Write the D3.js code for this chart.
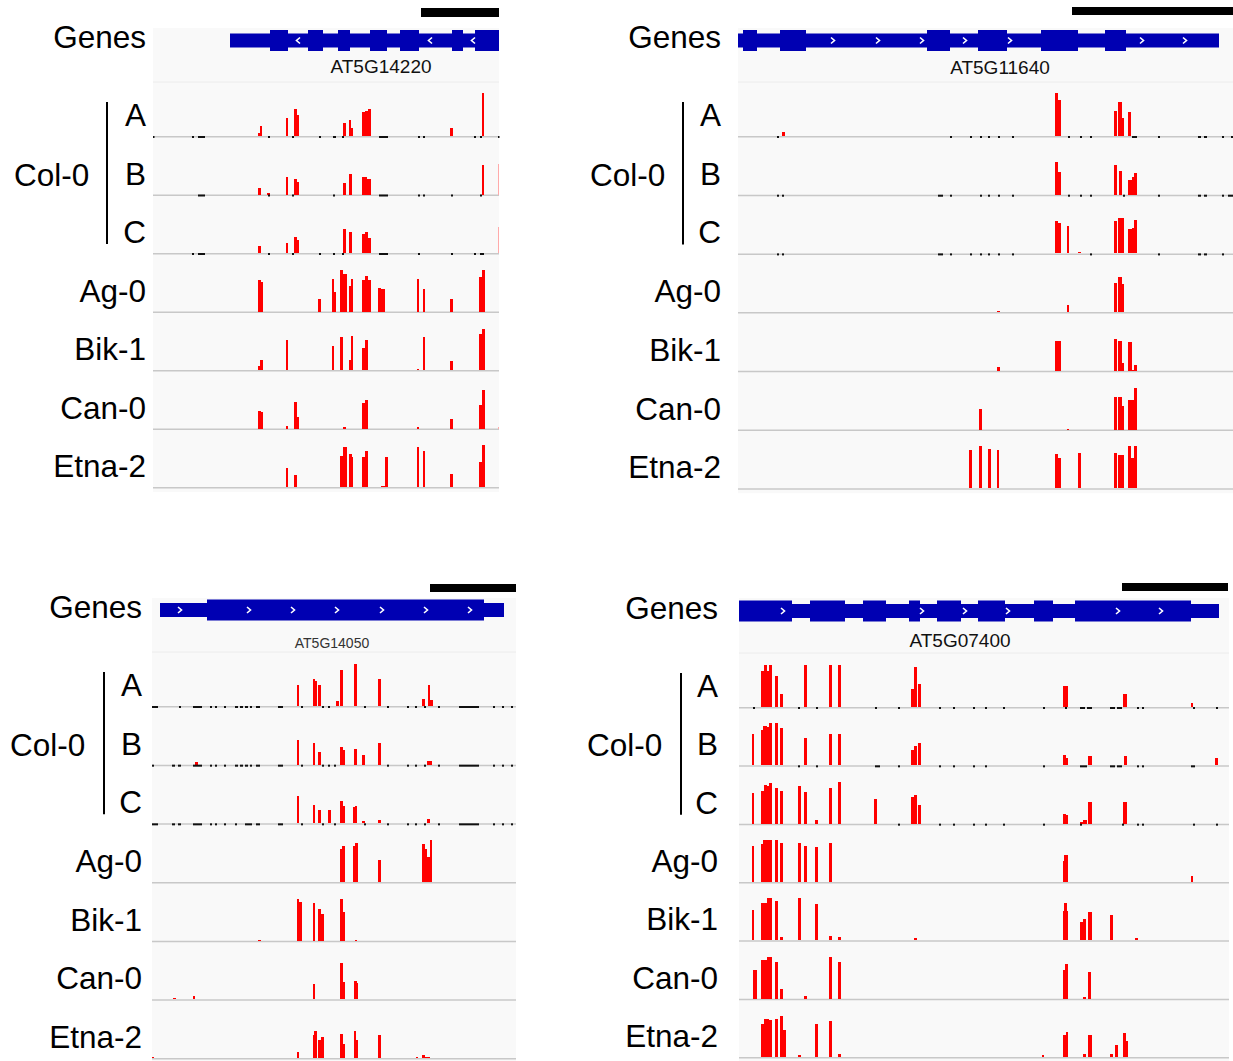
<!DOCTYPE html>
<html>
<head>
<meta charset="utf-8">
<script src="https://cdn.jsdelivr.net/npm/d3@7"></script>
<style>
  body { margin: 0; background: #fff; }
  text { font-family: "Liberation Sans", Arial, sans-serif; }
</style>
</head>
<body>
<script>
// tracks shown in every panel, top to bottom
const trackNames = ["A", "B", "C", "Ag-0", "Bik-1", "Can-0", "Etna-2"];
const geneIds = ["AT5G14220", "AT5G11640", "AT5G14050", "AT5G07400"];
// window length of each panel, in bins
const windowBins = [346, 495, 364, 490];

// gene models: [start, end] in bins
const geneSpans = [[77, 346], [0, 481], [8, 352], [0, 480]];
const exons1 = [[117, 135], [155, 170], [185, 197], [217, 234], [247, 266], [299, 310], [322, 346]];
const exons2 = [[5, 19], [42, 68], [189, 212], [240, 269], [303, 340], [367, 388]];
const exons3 = [[55, 332]];
const exons4 = [[0, 53], [71, 106], [124, 147], [170, 181], [198, 222], [239, 266], [295, 314], [336, 452]];
const chevrons1 = [145, 277, 320];
const chevrons2 = [95, 140, 184, 227, 272, 404, 447];
const chevrons3 = [28, 97, 141, 185, 230, 274, 318];
const chevrons4 = [44, 183, 226, 269, 379, 422];
const strands = ["-", "+", "+", "+"];
const geneLabelPos = [228, 262, 180, 221];
const scaleBars = [[268, 346], [334, 495], [278, 364], [383, 489]];

// coverage bars: [start bin, end bin, coverage]
const p1A = [[105,107,3],[107,109,10],[133,135,18],[141,144,27],[144,146,21],[190,193,13],[196,198,16],[198,200,8],[209,212,24],[212,215,25],[215,218,27],[297,300,8],[329,331,43]];
const p1B = [[105,108,7],[114,117,2],[133,135,18],[141,144,16],[144,146,13],[190,193,12],[196,199,21],[209,214,18],[214,218,16],[329,331,30],[345,346,31]];
const p1C = [[105,108,7],[133,135,10],[141,144,16],[144,146,13],[190,193,24],[196,199,21],[209,212,19],[212,215,21],[215,218,15],[345,346,26]];
const p1Ag = [[105,108,32],[108,110,30],[165,168,13],[179,181,33],[181,183,20],[187,190,42],[190,194,38],[196,198,26],[198,200,33],[209,212,32],[212,215,36],[215,218,32],[225,228,24],[228,232,23],[264,266,33],[270,272,23],[297,300,13],[326,329,35],[329,332,42]];
const p1Bik = [[105,107,4],[107,110,10],[133,135,30],[179,181,24],[187,190,33],[196,198,10],[198,200,34],[209,212,22],[212,215,30],[264,266,1],[270,272,33],[297,300,9],[326,329,36],[329,332,41]];
const p1Can = [[105,108,18],[108,110,17],[133,135,3],[141,144,27],[144,146,12],[190,193,2],[209,212,26],[212,215,29],[264,266,2],[297,300,10],[326,329,24],[329,332,39],[345,346,2]];
const p1Etna = [[133,135,19],[141,144,12],[187,190,31],[190,194,40],[196,199,33],[199,200,30],[209,212,30],[212,215,36],[228,232,1],[232,235,30],[264,266,40],[270,272,36],[297,300,13],[326,329,25],[329,332,42]];

const p2A = [[44,47,4],[317,320,43],[320,323,36],[376,379,25],[380,384,34],[384,386,18],[390,393,24]];
const p2B = [[317,320,33],[320,323,23],[376,379,30],[381,384,24],[390,394,15],[394,396,18],[396,399,22]];
const p2C = [[317,320,32],[320,323,30],[329,331,27],[340,343,1],[376,379,32],[380,386,35],[390,394,24],[394,396,25],[396,399,33]];
const p2Ag = [[259,262,1],[329,331,7],[376,379,29],[380,384,35],[384,386,28]];
const p2Bik = [[259,262,4],[317,323,30],[376,379,32],[380,384,30],[384,386,8],[390,394,29],[394,396,1],[396,399,6]];
const p2Can = [[241,244,21],[329,331,1],[376,379,33],[380,384,33],[384,386,24],[390,396,30],[396,399,42]];
const p2Etna = [[231,234,38],[241,244,42],[250,253,39],[259,261,38],[317,320,34],[320,323,30],[340,343,35],[376,379,35],[380,386,33],[390,393,42],[393,396,30],[396,399,42]];

const p3A = [[145,147,21],[161,163,27],[163,165,25],[166,169,21],[184,187,5],[188,191,36],[202,205,42],[226,229,27],[270,273,7],[276,278,21],[278,281,6]];
const p3B = [[43,46,3],[145,147,25],[161,163,22],[166,169,13],[188,191,18],[191,193,15],[202,205,16],[210,213,10],[226,229,22],[275,280,4]];
const p3C = [[145,147,27],[161,163,18],[166,169,13],[176,179,13],[188,191,22],[191,193,17],[201,203,16],[203,205,17],[210,213,2],[226,229,3],[275,278,4]];
const p3Ag = [[188,190,33],[190,193,36],[201,203,36],[203,206,39],[226,229,22],[270,273,38],[273,275,33],[275,278,25],[278,280,42]];
const p3Bik = [[106,109,1],[145,147,42],[147,150,39],[161,163,38],[166,169,32],[169,172,27],[188,191,42],[191,193,29],[203,205,1]];
const p3Can = [[21,24,1],[41,43,3],[161,163,15],[188,191,36],[191,193,17],[202,205,18],[205,206,16]];
const p3Etna = [[0,2,1],[145,147,6],[161,162,23],[162,165,27],[166,169,18],[169,172,21],[188,191,24],[191,193,14],[202,204,27],[204,206,18],[226,229,23],[264,266,1],[270,273,3],[273,278,1]];

const p4A = [[22,25,36],[25,28,42],[28,30,36],[30,33,42],[36,39,31],[41,44,13],[65,68,42],[90,93,42],[99,102,42],[172,175,18],[175,178,40],[179,182,23],[324,329,21],[384,388,13],[452,454,4]];
const p4B = [[13,15,31],[22,24,35],[24,28,39],[28,30,38],[30,33,42],[36,39,42],[41,44,37],[65,68,27],[90,93,31],[99,102,31],[172,175,15],[175,178,19],[179,182,22],[324,327,10],[327,329,7],[349,353,9],[385,388,9],[476,479,7]];
const p4C = [[13,15,31],[22,25,33],[25,28,39],[28,30,38],[30,33,41],[36,39,36],[41,44,33],[59,62,38],[65,68,32],[76,79,4],[90,93,36],[99,102,42],[135,138,25],[172,175,27],[175,178,29],[179,182,19],[324,327,10],[327,329,9],[341,344,2],[344,348,4],[349,353,22],[384,388,22]];
const p4Ag = [[13,15,36],[22,24,38],[24,33,42],[36,39,42],[41,44,39],[59,62,39],[65,68,36],[76,79,35],[90,93,39],[324,325,21],[325,329,27],[452,454,6]];
const p4Bik = [[13,15,30],[22,28,37],[28,33,42],[36,39,39],[41,44,3],[59,62,42],[76,79,36],[90,93,4],[99,102,3],[175,178,2],[324,325,29],[325,328,37],[328,329,29],[341,344,18],[344,347,21],[349,353,28],[371,374,25],[396,399,2]];
const p4Can = [[14,18,29],[22,28,39],[28,33,42],[36,39,37],[41,44,10],[65,68,3],[90,93,42],[99,102,37],[324,326,29],[326,329,35],[344,347,2],[349,352,27]];
const p4Etna = [[22,25,33],[25,30,38],[30,33,37],[36,39,38],[41,44,41],[44,47,27],[59,62,2],[76,79,33],[90,93,36],[99,102,3],[303,305,2],[324,327,22],[327,329,25],[344,347,3],[349,353,22],[371,374,3],[376,379,12],[384,387,24],[387,389,16]];

// zero-coverage ticks under the Col-0 replicates: [start bin, end bin]
const p1GapA = [[0,1],[39,41],[45,52],[115,117],[139,141],[166,168],[180,183],[189,191],[226,235],[265,267],[270,272],[321,323],[327,329],[345,346]];
const p1GapB = [[45,52],[115,117],[139,141],[180,182],[226,235],[265,267],[270,272],[298,300],[327,329]];
const p1GapC = [[39,41],[45,52],[115,117],[139,141],[166,168],[180,182],[189,191],[226,235],[265,267],[298,300],[321,323],[327,331]];
const p2GapA = [[39,41],[212,214],[232,234],[242,244],[250,252],[260,262],[274,276],[330,332],[342,344],[352,354],[394,399],[420,422],[460,463],[466,469],[484,486],[493,495]];
const p2GapB = [[39,41],[44,46],[200,205],[212,214],[242,244],[250,252],[260,262],[274,276],[330,332],[342,344],[352,354],[385,387],[420,422],[460,463],[466,469],[484,486],[490,495]];
const p2GapC = [[39,41],[44,46],[200,205],[212,214],[232,234],[242,244],[250,252],[260,262],[274,276],[352,354],[420,422],[460,463],[466,469],[484,486]];
const p3GapA = [[0,6],[27,29],[41,50],[58,60],[63,65],[72,74],[83,86],[88,91],[93,96],[98,100],[104,108],[126,131],[149,151],[170,172],[176,178],[212,214],[235,237],[255,257],[263,265],[272,274],[286,288],[307,327],[341,343],[350,352],[359,361]];
const p3GapB = [[0,2],[20,23],[26,29],[41,50],[58,60],[63,65],[72,74],[83,86],[88,91],[93,96],[98,100],[104,108],[126,131],[149,151],[170,172],[176,178],[182,184],[235,237],[255,257],[263,265],[272,274],[286,288],[307,327],[341,343],[350,352],[359,361]];
const p3GapC = [[0,6],[20,23],[26,29],[41,50],[58,60],[63,65],[72,74],[83,85],[93,100],[104,108],[126,131],[149,151],[170,172],[182,184],[212,214],[235,237],[255,257],[263,265],[272,274],[286,288],[307,327],[341,343],[350,352],[359,361]];
const p4GapA = [[14,16],[59,61],[77,79],[136,138],[159,161],[200,202],[214,216],[234,236],[246,248],[264,266],[304,306],[326,328],[341,346],[348,353],[371,376],[378,383],[398,400],[403,405],[454,456],[477,479]];
const p4GapB = [[59,61],[77,79],[136,141],[159,161],[200,202],[214,216],[234,236],[246,248],[304,306],[341,348],[371,376],[378,383],[398,400],[403,405],[452,456]];
const p4GapC = [[159,161],[200,202],[214,216],[234,236],[246,248],[264,266],[304,306],[341,343],[383,385],[398,400],[403,405],[454,456],[477,479]];

const coverage = [
  [p1A, p1B, p1C, p1Ag, p1Bik, p1Can, p1Etna],
  [p2A, p2B, p2C, p2Ag, p2Bik, p2Can, p2Etna],
  [p3A, p3B, p3C, p3Ag, p3Bik, p3Can, p3Etna],
  [p4A, p4B, p4C, p4Ag, p4Bik, p4Can, p4Etna]
];
const gaps = [
  [p1GapA, p1GapB, p1GapC],
  [p2GapA, p2GapB, p2GapC],
  [p3GapA, p3GapB, p3GapC],
  [p4GapA, p4GapB, p4GapC]
];
const exonSets = [exons1, exons2, exons3, exons4];
const chevronSets = [chevrons1, chevrons2, chevrons3, chevrons4];

// page layout of the four panels
const layout = [
  {x0: 153, top: 28, sepY: 82, geneY: 40.5, labelY: 73, labelSize: 19, labelColor: "#111", scaleY: 8, scaleH: 9, base0: 136, step: 58.5, textRight: 146, colX: 14, lineX: 107},
  {x0: 738, top: 28, sepY: 82, geneY: 40.5, labelY: 74, labelSize: 19, labelColor: "#111", scaleY: 7, scaleH: 8, base0: 136, step: 58.7, textRight: 721, colX: 590, lineX: 683},
  {x0: 152, top: 598, sepY: 652, geneY: 610, labelY: 648, labelSize: 14, labelColor: "#333", scaleY: 584, scaleH: 8, base0: 706, step: 58.67, textRight: 142, colX: 10, lineX: 104},
  {x0: 739, top: 598, sepY: 653, geneY: 611, labelY: 647, labelSize: 19, labelColor: "#111", scaleY: 583, scaleH: 8, base0: 707, step: 58.33, textRight: 718, colX: 587, lineX: 681}
];
const labelSize = 31.5;

const w = 1233, h = 1061;
const svg = d3.select("body").append("svg")
  .attr("width", w)
  .attr("height", h);

layout.forEach((L, i) => {
  const g = svg.append("g");
  const xScale = d3.scaleLinear()
    .domain([0, windowBins[i]])
    .range([L.x0, L.x0 + windowBins[i]]);
  const lastBase = L.base0 + L.step * (trackNames.length - 1);

  // panel background
  g.append("rect")
    .attr("x", xScale(0)).attr("y", L.top)
    .attr("width", xScale(windowBins[i]) - xScale(0))
    .attr("height", lastBase + 5 - L.top)
    .attr("fill", "#f9f9f9");
  g.append("line")
    .attr("x1", xScale(0)).attr("x2", xScale(windowBins[i]))
    .attr("y1", L.sepY).attr("y2", L.sepY)
    .attr("stroke", "#ececec").attr("stroke-width", 1);

  // scale bar
  g.append("rect")
    .attr("x", xScale(scaleBars[i][0])).attr("y", L.scaleY)
    .attr("width", xScale(scaleBars[i][1]) - xScale(scaleBars[i][0]))
    .attr("height", L.scaleH)
    .attr("fill", "#000");

  // gene model
  const blue = "#0000b2";
  g.append("rect")
    .attr("x", xScale(geneSpans[i][0])).attr("y", L.geneY - 7)
    .attr("width", xScale(geneSpans[i][1]) - xScale(geneSpans[i][0]))
    .attr("height", 14)
    .attr("fill", blue);
  g.selectAll(".exon").data(exonSets[i]).enter().append("rect")
    .attr("class", "exon")
    .attr("x", d => xScale(d[0])).attr("y", L.geneY - 10.5)
    .attr("width", d => xScale(d[1]) - xScale(d[0]))
    .attr("height", 21)
    .attr("fill", blue);
  const dir = strands[i] === "+" ? 1 : -1;
  g.selectAll(".chev").data(chevronSets[i]).enter().append("path")
    .attr("class", "chev")
    .attr("d", d => {
      const cx = xScale(d), cy = L.geneY;
      return "M" + (cx - 2 * dir) + "," + (cy - 3) + "L" + (cx + 1.5 * dir) + "," + cy + "L" + (cx - 2 * dir) + "," + (cy + 3);
    })
    .attr("fill", "none")
    .attr("stroke", "#fff")
    .attr("stroke-width", 1.6);
  g.append("text")
    .attr("x", xScale(geneLabelPos[i])).attr("y", L.labelY)
    .attr("text-anchor", "middle")
    .attr("font-size", L.labelSize)
    .attr("fill", L.labelColor)
    .text(geneIds[i]);

  // coverage tracks
  trackNames.forEach((name, t) => {
    const base = L.base0 + L.step * t;
    const yScale = d3.scaleLinear().domain([0, 50]).range([base, base - 50]);

    g.append("line")
      .attr("x1", xScale(0)).attr("x2", xScale(windowBins[i]))
      .attr("y1", base + 0.75).attr("y2", base + 0.75)
      .attr("stroke", "#c8c8c8").attr("stroke-width", 1.5);

    g.append("g").selectAll("rect").data(coverage[i][t]).enter().append("rect")
      .attr("x", d => xScale(d[0]))
      .attr("y", d => yScale(d[2]))
      .attr("width", d => xScale(d[1]) - xScale(d[0]))
      .attr("height", d => yScale(0) - yScale(d[2]))
      .attr("fill", d => d[1] >= windowBins[i] ? "#ffaaaa" : "#ff0000")
      .attr("shape-rendering", "crispEdges");

    if (t < 3) {
      g.append("g").selectAll("rect").data(gaps[i][t]).enter().append("rect")
        .attr("x", d => xScale(d[0]))
        .attr("y", base)
        .attr("width", d => Math.max(1.5, xScale(d[1]) - xScale(d[0])))
        .attr("height", 2)
        .attr("fill", "#111");
    }

    g.append("text")
      .attr("x", L.textRight).attr("y", base - 21)
      .attr("dy", "0.35em")
      .attr("text-anchor", "end")
      .attr("font-size", labelSize)
      .text(name);
  });

  // row headers
  g.append("text")
    .attr("x", L.textRight).attr("y", L.geneY - 3.5)
    .attr("dy", "0.35em")
    .attr("text-anchor", "end")
    .attr("font-size", labelSize)
    .text("Genes");
  g.append("text")
    .attr("x", L.colX).attr("y", L.base0 + L.step - 20)
    .attr("dy", "0.35em")
    .attr("font-size", labelSize)
    .text("Col-0");
  g.append("line")
    .attr("x1", L.lineX).attr("x2", L.lineX)
    .attr("y1", L.base0 - 34).attr("y2", L.base0 + 2 * L.step - 9)
    .attr("stroke", "#000").attr("stroke-width", 2);
});
</script>
</body>
</html>
